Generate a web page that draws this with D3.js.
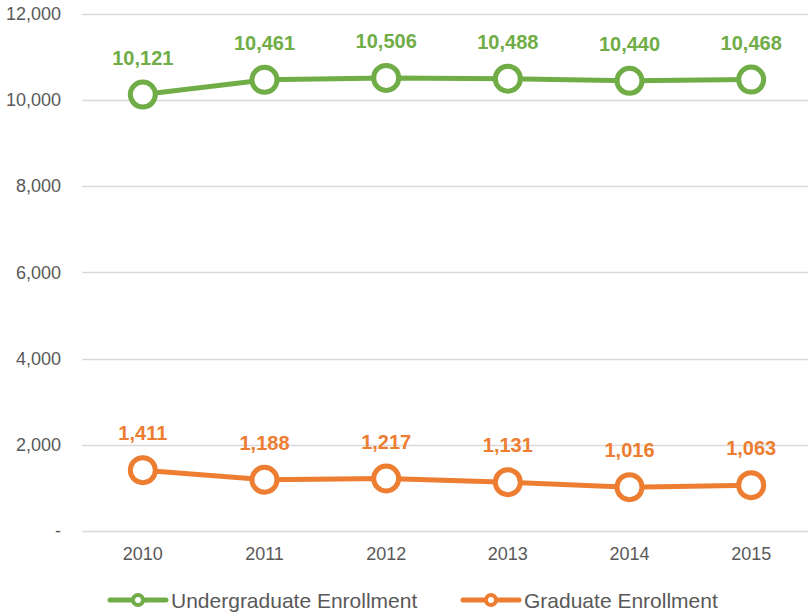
<!DOCTYPE html>
<html>
<head>
<meta charset="utf-8">
<script src="https://cdn.jsdelivr.net/npm/d3@7"></script>
<style>
  body { margin: 0; background: #fff; }
  svg { display: block; font-family: "Liberation Sans", Arial, sans-serif; }
</style>
</head>
<body>
<svg id="chart" width="808" height="613"></svg>
<script>
// chart data
var years = ['2010', '2011', '2012', '2013', '2014', '2015'];
var undergrad = [10121, 10461, 10506, 10488, 10440, 10468];
var graduate = [1411, 1188, 1217, 1131, 1016, 1063];
var yTicks = [0, 2000, 4000, 6000, 8000, 10000, 12000];

var series = [
  { name: 'Undergraduate Enrollment', values: undergrad, color: '#70ad47' },
  { name: 'Graduate Enrollment', values: graduate, color: '#ed7d31' }
];

var svg = d3.select('#chart');

var x = d3.scaleBand().domain(years).range([82, 812]);
var y = d3.scaleLinear().domain([0, 12000]).range([531, 13.5]);

var fmt = d3.format(',');

// gridlines
svg.append('g')
  .selectAll('line')
  .data(yTicks)
  .enter()
  .append('line')
  .attr('x1', 82)
  .attr('x2', 808)
  .attr('y1', function(d) { return Math.round(y(d)) + 0.5; })
  .attr('y2', function(d) { return Math.round(y(d)) + 0.5; })
  .attr('stroke', '#d9d9d9')
  .attr('stroke-width', 1.5);

// y axis labels
var yAxis = d3.axisLeft(y)
  .tickValues(yTicks)
  .tickSize(0)
  .tickPadding(0)
  .tickFormat(function(d) { return d === 0 ? '-' : fmt(d); });

svg.append('g')
  .attr('transform', 'translate(61,0)')
  .call(yAxis)
  .call(function(g) { g.select('.domain').remove(); })
  .selectAll('text')
  .attr('font-size', 18)
  .attr('font-family', '"Liberation Sans", Arial, sans-serif')
  .attr('fill', '#595959');

// x axis labels
var xAxis = d3.axisBottom(x).tickSize(0).tickPadding(0);

svg.append('g')
  .attr('transform', 'translate(0,547)')
  .call(xAxis)
  .call(function(g) { g.select('.domain').remove(); })
  .selectAll('text')
  .attr('font-size', 18)
  .attr('font-family', '"Liberation Sans", Arial, sans-serif')
  .attr('fill', '#595959');

var cx = function(d, i) { return x(years[i]) + x.bandwidth() / 2; };

var line = d3.line()
  .x(cx)
  .y(function(d) { return y(d); });

series.forEach(function(s) {
  var g = svg.append('g');

  g.append('path')
    .datum(s.values)
    .attr('d', line)
    .attr('fill', 'none')
    .attr('stroke', s.color)
    .attr('stroke-width', 5);

  g.selectAll('circle')
    .data(s.values)
    .enter()
    .append('circle')
    .attr('cx', cx)
    .attr('cy', function(d) { return y(d); })
    .attr('r', 12.5)
    .attr('fill', '#fff')
    .attr('stroke', s.color)
    .attr('stroke-width', 5);

  g.selectAll('text')
    .data(s.values)
    .enter()
    .append('text')
    .attr('x', cx)
    .attr('y', function(d) { return y(d) - 30; })
    .attr('text-anchor', 'middle')
    .attr('font-size', 20)
    .attr('font-weight', 'bold')
    .attr('fill', s.color)
    .text(function(d) { return fmt(d); });
});

// legend
var legendX = [110, 463];
var legend = svg.append('g')
  .selectAll('g')
  .data(series)
  .enter()
  .append('g')
  .attr('transform', function(d, i) { return 'translate(' + legendX[i] + ',600)'; });

legend.append('line')
  .attr('x1', 0)
  .attr('x2', 56)
  .attr('stroke', function(d) { return d.color; })
  .attr('stroke-width', 5)
  .attr('stroke-linecap', 'round');

legend.append('circle')
  .attr('cx', 28)
  .attr('r', 5)
  .attr('fill', '#fff')
  .attr('stroke', function(d) { return d.color; })
  .attr('stroke-width', 4);

legend.append('text')
  .attr('x', 61)
  .attr('y', 7.5)
  .attr('font-size', 21)
  .attr('fill', '#595959')
  .text(function(d) { return d.name; });
</script>
</body>
</html>
